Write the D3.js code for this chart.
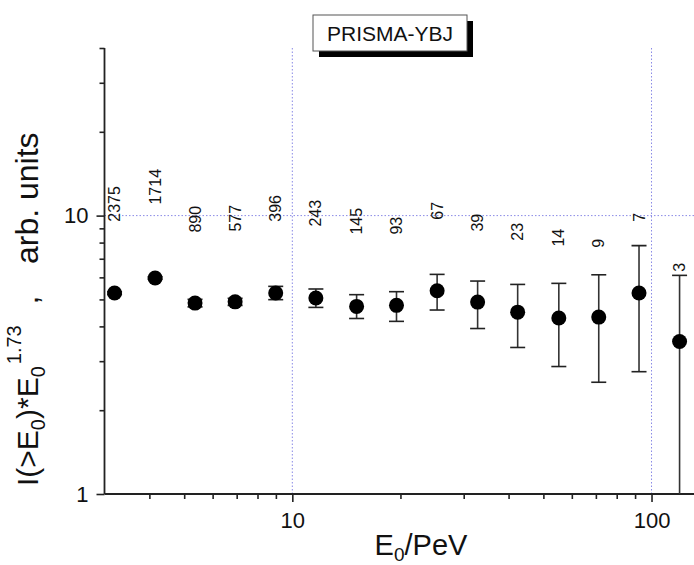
<!DOCTYPE html>
<html><head><meta charset="utf-8">
<script src="https://cdn.jsdelivr.net/npm/d3@7"></script>
<style>
html,body{margin:0;padding:0;background:#fff;}
text{font-family:Arial,"Liberation Sans",sans-serif;}
</style></head>
<body>
<svg id="chart" width="694" height="565"></svg>
<script>
// ---- data ----
const energies = [3.20, 4.15, 5.36, 6.93, 8.99, 11.63, 15.1, 19.5, 25.3, 32.8, 42.4, 55.2, 71.3, 92.3, 119.7];
const values   = [5.27, 5.97, 4.85, 4.90, 5.27, 5.06, 4.72, 4.76, 5.37, 4.89, 4.50, 4.29, 4.32, 5.27, 3.53];
const errHigh  = [5.33, 6.03, 5.00, 5.05, 5.57, 5.45, 5.20, 5.33, 6.15, 5.82, 5.66, 5.71, 6.13, 7.80, 6.10];
const errLow   = [5.21, 5.91, 4.70, 4.76, 4.99, 4.68, 4.27, 4.17, 4.58, 3.93, 3.36, 2.87, 2.52, 2.75, 0.50];
const counts   = ["2375","1714","890","577","396","243","145","93","67","39","23","14","9","7","3"];
const countAt  = [9.51, 10.96, 8.69, 8.76, 9.51, 9.13, 8.55, 8.55, 9.67, 8.76, 8.13, 7.74, 7.67, 9.51, 6.29];
const xMajorTicks = [10, 100];
const xMinorTicks = [4,5,6,7,8,9,20,30,40,50,60,70,80,90];
const yMajorTicks = [1, 10];
const yMinorTicks = [2,3,4,5,6,7,8,9,20,30,40];
const gridX = [10, 100];
const gridY = [10];
const title = "PRISMA-YBJ";

// ---- layout ----
const svg = d3.select("#chart");
const mLeft = 104.5, mRight = 694, mTop = 48, mBottom = 494;

const x = d3.scaleLog().domain([3, 131.3]).range([mLeft, mRight]);
const y = d3.scaleLog().domain([1, 40]).range([mBottom, mTop]);

svg.append("defs").append("clipPath").attr("id","plotclip")
  .append("rect").attr("x", mLeft).attr("y", mTop - 20).attr("width", mRight - mLeft).attr("height", mBottom - mTop + 20);

// grid lines (dotted)
const gridColor = "#8a8ae6";
svg.append("g").selectAll("line").data(gridX).join("line")
  .attr("x1", d => x(d)).attr("x2", d => x(d))
  .attr("y1", mTop).attr("y2", mBottom)
  .attr("stroke", gridColor).attr("stroke-width", 1).attr("stroke-dasharray", "1.5,2");
svg.append("g").selectAll("line").data(gridY).join("line")
  .attr("x1", mLeft).attr("x2", mRight)
  .attr("y1", d => y(d)).attr("y2", d => y(d))
  .attr("stroke", gridColor).attr("stroke-width", 1).attr("stroke-dasharray", "1.5,2");

// axes
const axisColor = "#222";
const xAxisMajor = d3.axisBottom(x).tickValues(xMajorTicks).tickFormat(d3.format("d")).tickSize(8).tickPadding(10);
const xAxisMinor = d3.axisBottom(x).tickValues(xMinorTicks).tickFormat("").tickSize(5);
const yAxisMajor = d3.axisLeft(y).tickValues(yMajorTicks).tickFormat(d3.format("d")).tickSize(8).tickPadding(8);
const yAxisMinor = d3.axisLeft(y).tickValues(yMinorTicks).tickFormat("").tickSize(5);

function styleAxis(g, fs) {
  g.select(".domain").remove();
  g.selectAll(".tick line").attr("stroke", axisColor).attr("stroke-width", 1.6);
  g.selectAll(".tick text").attr("fill", "#111").style("font-size", fs + "px").style("font-family", "Arial, 'Liberation Sans', sans-serif");
}
svg.append("g").attr("transform", `translate(0,${mBottom})`).call(xAxisMinor).call(g => styleAxis(g, 22));
svg.append("g").attr("transform", `translate(0,${mBottom})`).call(xAxisMajor).call(g => styleAxis(g, 22));
svg.append("g").attr("transform", `translate(${mLeft},0)`).call(yAxisMinor).call(g => styleAxis(g, 22));
svg.append("g").attr("transform", `translate(${mLeft},0)`).call(yAxisMajor).call(g => styleAxis(g, 22));

// axis lines
svg.append("line").attr("x1", mLeft).attr("x2", mRight).attr("y1", mBottom).attr("y2", mBottom)
  .attr("stroke", axisColor).attr("stroke-width", 1.8);
svg.append("line").attr("x1", mLeft).attr("x2", mLeft).attr("y1", mTop).attr("y2", mBottom)
  .attr("stroke", axisColor).attr("stroke-width", 1.8);

// data
const data = energies.map((e, i) => ({e, v: values[i], hi: errHigh[i], lo: errLow[i], n: counts[i], la: countAt[i]}));
const plot = svg.append("g").attr("clip-path", "url(#plotclip)");
const cap = 7.5;
const eb = plot.append("g").selectAll("g").data(data).join("g");
eb.append("line").attr("x1", d => x(d.e)).attr("x2", d => x(d.e))
  .attr("y1", d => y(d.hi)).attr("y2", d => y(Math.max(d.lo, 0.9)))
  .attr("stroke", "#333").attr("stroke-width", 1.6);
eb.append("line").attr("x1", d => x(d.e) - cap).attr("x2", d => x(d.e) + cap)
  .attr("y1", d => y(d.hi)).attr("y2", d => y(d.hi))
  .attr("stroke", "#222").attr("stroke-width", 1.6);
eb.append("line").attr("x1", d => x(d.e) - cap).attr("x2", d => x(d.e) + cap)
  .attr("y1", d => y(d.lo)).attr("y2", d => y(d.lo))
  .attr("stroke", "#222").attr("stroke-width", 1.6);
plot.append("g").selectAll("circle").data(data).join("circle")
  .attr("cx", d => x(d.e)).attr("cy", d => y(d.v)).attr("r", 7.5).attr("fill", "#000");

// count labels
svg.append("g").selectAll("text").data(data).join("text")
  .attr("transform", d => `translate(${x(d.e)},${y(d.la)}) rotate(-90)`)
  .attr("dy", "0.35em")
  .attr("text-anchor", "start")
  .style("font-size", "16px").attr("fill", "#111")
  .text(d => d.n);

// title box with shadow
const bx = 313, by = 15, bw = 154, bh = 36, sh = 6;
svg.append("rect").attr("x", bx + sh).attr("y", by + sh).attr("width", bw).attr("height", bh).attr("fill", "#000");
svg.append("rect").attr("x", bx).attr("y", by).attr("width", bw).attr("height", bh)
  .attr("fill", "#fff").attr("stroke", "#555").attr("stroke-width", 1);
svg.append("text").attr("x", bx + bw / 2).attr("y", by + bh / 2).attr("dy", "0.36em")
  .attr("text-anchor", "middle").style("font-size", "21px").attr("fill", "#111").text(title);

// x axis title
const xt = svg.append("text").attr("x", 421).attr("y", 555).attr("text-anchor", "middle")
  .style("font-size", "29px").attr("fill", "#111");
xt.append("tspan").text("E");
xt.append("tspan").attr("dy", 6).style("font-size", "19px").text("0");
xt.append("tspan").attr("dy", -6).text("/PeV");

// y axis title (three pieces)
const yt = svg.append("text").attr("transform", `translate(38,486) rotate(-90)`).attr("text-anchor", "start")
  .style("font-size", "30px").attr("fill", "#111");
yt.append("tspan").text("I(>E");
yt.append("tspan").attr("dy", 7).style("font-size", "20px").text("0");
yt.append("tspan").attr("dy", -7).text(")*E");
yt.append("tspan").attr("dy", 7).style("font-size", "20px").text("0");
yt.append("tspan").attr("dy", -24).attr("dx", 2).style("font-size", "20px").text("1.73");
svg.append("text").attr("transform", `translate(38,300) rotate(-90)`).attr("text-anchor", "middle")
  .style("font-size", "30px").attr("fill", "#111").text(",");
svg.append("text").attr("transform", `translate(38,264) rotate(-90)`).attr("text-anchor", "start")
  .style("font-size", "32px").attr("fill", "#111").text("arb. units");
</script>
</body></html>
